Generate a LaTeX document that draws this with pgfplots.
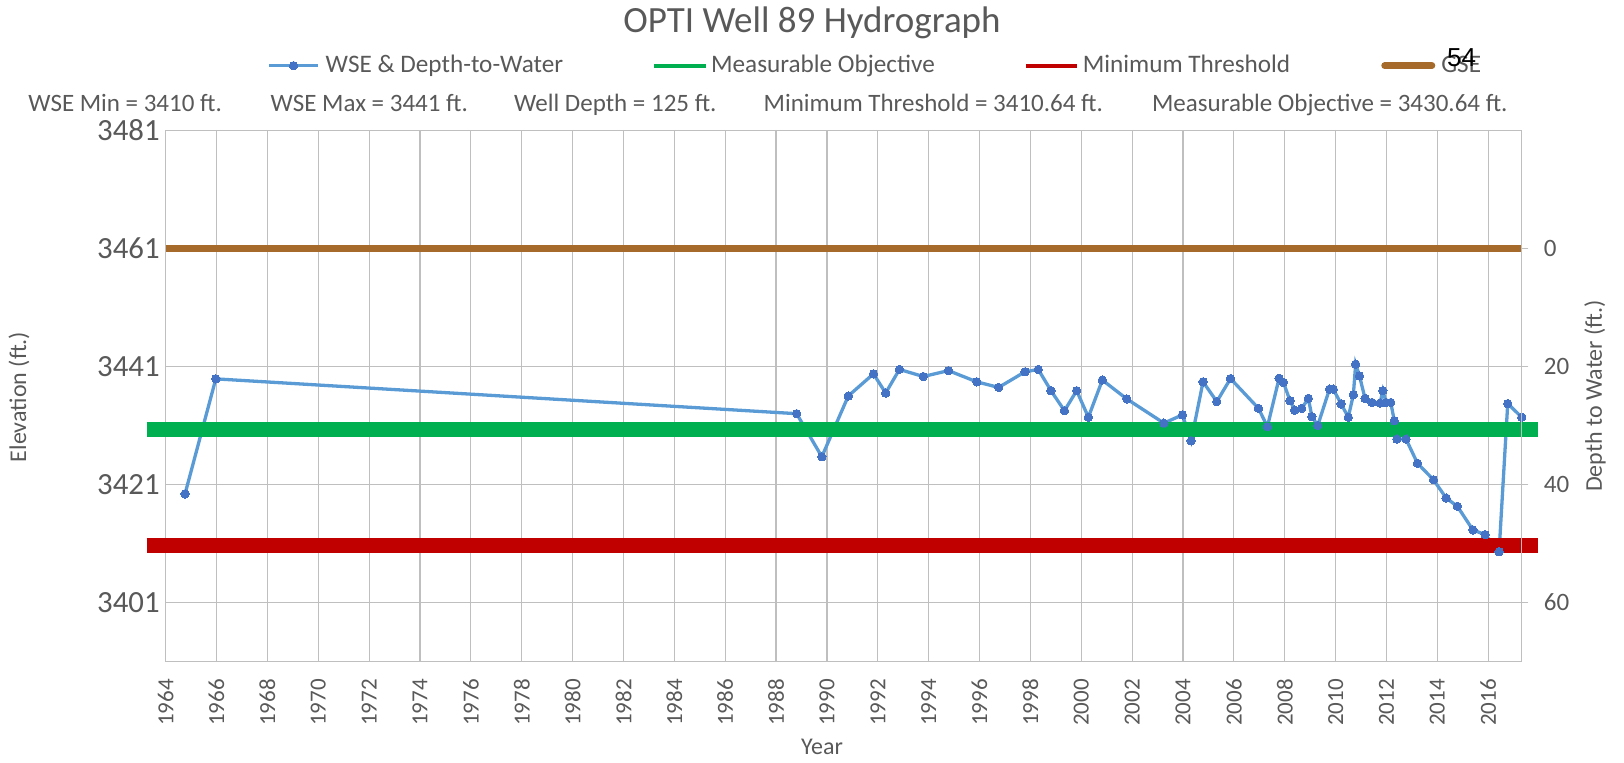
\documentclass[border=0pt]{standalone}
\usepackage{fontspec}
\setmainfont{Carlito}
\newfontfamily\arialf{Liberation Sans}
\usepackage{pgfplots}
\pgfplotsset{compat=1.18}
\definecolor{txt}{RGB}{89,89,89}
\definecolor{gridc}{RGB}{191,191,191}
\definecolor{wse}{RGB}{91,155,213}
\definecolor{wsem}{RGB}{68,114,196}
\definecolor{mo}{RGB}{0,176,80}
\definecolor{mt}{RGB}{192,0,0}
\definecolor{gse}{RGB}{166,106,42}
\pgfplotsset{
  legblue/.style={legend image code/.code={\draw[##1, mark repeat=2, mark phase=2] plot coordinates {(0pt,0pt) (12.25pt,0pt) (24.5pt,0pt)};}},
  legthick/.style={legend image code/.code={\path[##1, draw=none, line width=0pt] (0pt,0pt) -- (25.5pt,0pt); \draw[##1, line width=2.2pt, overlay] (0pt,0pt) -- (25.8pt,0pt);}},
  leggse/.style={legend image code/.code={\path[##1, draw=none, line width=0pt] (0pt,0pt) -- (27pt,0pt); \draw[##1, line width=3.3pt, line cap=round, overlay] (1.65pt,0pt) -- (25.35pt,0pt);}},
}
\begin{document}
\begin{tikzpicture}
\useasboundingbox (0pt,0pt) rectangle (812pt,381.5pt);
\begin{axis}[
  at={(82.85pt,50.75pt)}, anchor=south west,
  scale only axis, width=678pt, height=265.5pt,
  xmin=1964, xmax=2017.32, ymin=3391, ymax=3481,
  xtick={1964,1966,...,2016},
  ytick={3401,3421,3441,3461,3481},
  /pgf/number format/1000 sep={},
  /pgf/number format/assume math mode=true,
  grid=major,
  major grid style={draw=gridc, line width=0.6pt},
  axis line style={draw=gridc, line width=0.6pt},
  major tick length=0pt,
  xticklabel style={rotate=90, anchor=east, inner sep=0pt, font=\fontsize{11.5}{11.5}\selectfont, text=txt},
  xticklabel shift=8.6pt,
  yticklabel style={anchor=east, inner xsep=2.85pt, inner ysep=0pt, font=\fontsize{15.4}{15.4}\selectfont, text=txt},
  clip=false,
  legend columns=4,
  legend style={at={(0.07471,1.1220)}, anchor=west, draw=none, fill=none, inner sep=0pt,
    nodes={inner sep=0pt, font=\fontsize{12.6}{12.6}\selectfont, text=txt},
    /tikz/every odd column/.append style={column sep=3pt},
    /tikz/every even column/.append style={column sep=45.5pt}},
]
\addplot[color=wse, line width=1.65pt, mark=*, mark size=2.1pt,
  mark options={draw=wsem, fill=wsem, line width=0pt}, legblue]
coordinates {
(1964.76,3419.4) (1965.97,3438.9) (1988.81,3433.0) (1989.80,3425.7) (1990.84,3436.0)
(1991.83,3439.75) (1992.31,3436.5) (1992.85,3440.5) (1993.79,3439.3) (1994.78,3440.3)
(1995.89,3438.4) (1996.75,3437.45) (1997.79,3440.1) (1998.31,3440.5) (1998.81,3436.9)
(1999.34,3433.5) (1999.82,3436.9) (2000.28,3432.4) (2000.83,3438.7) (2001.79,3435.5)
(2003.25,3431.4) (2003.98,3432.8) (2004.32,3428.4) (2004.79,3438.4) (2005.33,3435.05)
(2005.87,3438.95) (2006.97,3433.9) (2007.32,3430.8) (2007.78,3439.0) (2007.95,3438.3)
(2008.21,3435.2) (2008.39,3433.6) (2008.67,3433.9) (2008.93,3435.6) (2009.07,3432.5)
(2009.30,3431.0) (2009.76,3437.15) (2009.91,3437.15) (2010.22,3434.65) (2010.50,3432.4)
(2010.70,3436.2) (2010.79,3441.4) (2010.94,3439.4) (2011.16,3435.6) (2011.43,3434.9)
(2011.75,3434.8) (2011.86,3436.9) (2011.99,3434.9) (2012.17,3434.9) (2012.31,3431.8)
(2012.41,3428.7) (2012.77,3428.7) (2013.22,3424.6) (2013.85,3421.8) (2014.35,3418.7)
(2014.79,3417.3) (2015.40,3413.3) (2015.88,3412.5) (2016.43,3409.6) (2016.77,3434.7)
(2017.32,3432.4)
};
\addlegendentry{WSE \& Depth-to-Water}
\addplot[color=mo, line width=7.35pt, legthick]
coordinates {(1963.25,3430.3) (2017.95,3430.3)};
\addlegendentry{Measurable Objective}
\addplot[color=mt, line width=7.35pt, legthick]
coordinates {(1963.25,3410.64) (2017.95,3410.64)};
\addlegendentry{Minimum Threshold}
\addplot[color=gse, line width=3.5pt, leggse]
coordinates {(1964,3461) (2017.32,3461)};
\addlegendentry{GSE}
\end{axis}
\begin{axis}[
  at={(82.85pt,50.75pt)}, anchor=south west,
  scale only axis, width=678pt, height=265.5pt,
  xmin=1964, xmax=2017.32, ymin=-20, ymax=70, y dir=reverse,
  hide x axis, axis y line*=right,
  axis line style={draw=gridc, line width=0.6pt},
  ytick={0,20,40,60},
  major tick length=3.35pt, tick align=outside,
  tick style={draw=gridc, line width=0.6pt},
  yticklabel style={anchor=west, inner sep=0pt, xshift=7.5pt, font=\fontsize{12.5}{12.5}\selectfont, text=txt},
  /pgf/number format/assume math mode=true,
]
\addplot[draw=none, forget plot] coordinates {(1990,0) (2000,10)};
\end{axis}
\node[anchor=base, inner sep=0pt, font=\fontsize{18.5}{18.5}\selectfont, text=txt] at (406pt,365pt) {OPTI Well 89 Hydrograph};
\begin{scope}[every node/.style={anchor=base west, inner sep=0pt, font=\fontsize{12.5}{12.5}\selectfont, text=txt}]
\node at (14pt,325.65pt) {WSE Min = 3410 ft.};
\node at (135.15pt,325.65pt) {WSE Max = 3441 ft.};
\node at (256.85pt,325.65pt) {Well Depth = 125 ft.};
\node at (381.65pt,325.65pt) {Minimum Threshold = 3410.64 ft.};
\node at (575.85pt,325.65pt) {Measurable Objective = 3430.64 ft.};
\end{scope}
\node[anchor=base west, inner sep=0pt, font=\arialf\fontsize{13}{13}\selectfont] at (723.35pt,348.15pt) {54};
\node[anchor=base, inner sep=0pt, font=\fontsize{12}{12}\selectfont, text=txt] at (411pt,4pt) {Year};
\node[rotate=90, inner sep=0pt, font=\fontsize{12}{12}\selectfont, text=txt] at (9.5pt,183pt) {Elevation (ft.)};
\node[rotate=90, inner sep=0pt, font=\fontsize{12}{12}\selectfont, text=txt] at (797.5pt,183.5pt) {Depth to Water (ft.)};
\end{tikzpicture}
\end{document}
